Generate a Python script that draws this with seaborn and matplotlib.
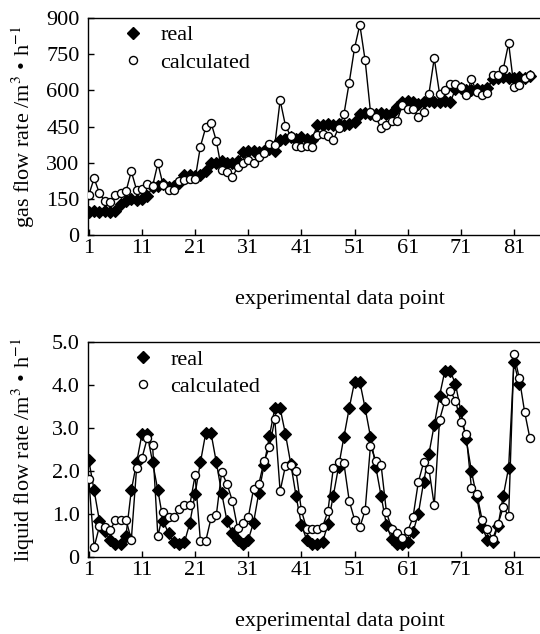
import matplotlib
matplotlib.use("Agg")
import numpy as np
import pandas as pd
import seaborn as sns
import matplotlib.pyplot as plt
from matplotlib.lines import Line2D

# ---------------- data ----------------
gas_real = [95, 100, 95, 100, 95, 100,
            130, 140, 150, 145, 150, 160,
            200, 205, 210, 200, 205, 215,
            250, 250, 245, 250, 265, 300,
            300, 305, 300, 300, 305,
            345, 350, 350, 345, 350, 355, 350,
            395, 400, 405, 400, 405, 400, 395,
            455, 455, 460, 455, 460, 455, 460,
            470, 500,
            505, 500, 500, 505, 500, 505,
            530,
            550, 555, 550, 545, 550, 555, 550, 550, 555, 550,
            605, 610, 600, 600, 605, 600, 610,
            645, 650, 655, 650, 650, 655, 650, 660]

gas_calc = [166, 235, 173, 140, 136, 165, 173, 181, 264, 186,
            189, 210, 203, 297, 206, 185, 185, 223, 228, 232,
            232, 367, 446, 466, 390, 270, 260, 240, 280, 300,
            311, 297, 325, 342, 377, 373, 559, 454, 409, 369,
            365, 369, 367, 414, 418, 409, 394, 445, 500, 632,
            775, 872, 724, 511, 490, 442, 455, 472, 472, 541,
            524, 524, 490, 511, 586, 733, 586, 600, 627, 627,
            614, 579, 645, 594, 579, 590, 662, 662, 690, 795,
            614, 623, 652, 662]

liq_real = [2.25, 1.55, 0.84, 0.6, 0.4, 0.3, 0.3, 0.5, 1.55, 2.2,
            2.86, 2.86, 2.2, 1.55, 0.84, 0.55, 0.35, 0.3, 0.35, 0.78,
            1.47, 2.2, 2.88, 2.88, 2.2, 1.49, 0.84, 0.56, 0.4, 0.3,
            0.4, 0.8, 1.5, 2.15, 2.82, 3.46, 3.46, 2.86, 2.17, 1.42,
            0.75, 0.4, 0.3, 0.3, 0.35, 0.77, 1.42, 2.1, 2.79, 3.46,
            4.07, 4.07, 3.46, 2.8, 2.1, 1.42, 0.75, 0.42, 0.3, 0.3,
            0.35, 0.58, 1.0, 1.74, 2.4, 3.07, 3.75, 4.33, 4.33, 4.02,
            3.4, 2.74, 2.0, 1.39, 0.7, 0.4, 0.35, 0.73, 1.43, 2.08,
            4.53, 4.02]

liq_calc = [1.81, 0.23, 0.71, 0.7, 0.62, 0.85, 0.85, 0.87, 0.4, 2.08,
            2.3, 2.76, 2.6, 0.48, 1.05, 0.92, 0.92, 1.12, 1.2, 1.2,
            1.9, 0.37, 0.37, 0.9, 0.98, 1.98, 1.7, 1.31, 0.67, 0.78,
            0.92, 1.58, 1.7, 2.24, 2.55, 3.21, 1.53, 2.12, 2.14, 1.99,
            1.09, 0.65, 0.65, 0.65, 0.7, 1.07, 2.06, 2.2, 2.18, 1.31,
            0.87, 0.69, 1.09, 2.59, 2.24, 2.14, 1.05, 0.65, 0.55, 0.45,
            0.6, 0.92, 1.74, 2.2, 2.05, 1.2, 3.19, 3.63, 3.87, 3.63,
            3.15, 2.86, 1.6, 1.47, 0.87, 0.64, 0.42, 0.77, 1.16, 0.95,
            4.72, 4.16, 3.38, 2.76]

x_ticks = [1, 11, 21, 31, 41, 51, 61, 71, 81]
gas_ticks = [0, 150, 300, 450, 600, 750, 900]
liq_ticks = [0, 1, 2, 3, 4, 5]
liq_tick_labels = ["0", "1.0", "2.0", "3.0", "4.0", "5.0"]
series_names = ["real", "calculated"]
x_label = "experimental data point"
gas_ylabel = "gas flow rate /m$^{3}$ \u2022 h$^{-1}$"
liq_ylabel = "liquid flow rate /m$^{3}$ \u2022 h$^{-1}$"

# ---------------- style ----------------
sns.set_theme(style="ticks")
plt.rcParams.update({
    "font.family": ["Liberation Serif", "DejaVu Serif"],
    "mathtext.fontset": "stix",
    "axes.edgecolor": "black",
    "axes.linewidth": 1.0,
    "xtick.color": "black",
    "ytick.color": "black",
    "text.color": "black",
    "axes.labelcolor": "black",
})

FS = 16
W, H = 540, 634
fig = plt.figure(figsize=(W / 100, H / 100), dpi=100)
ax1 = fig.add_axes([88 / W, 1 - 235 / H, (W - 88) / W, (235 - 18) / H])
ax2 = fig.add_axes([88 / W, 1 - 557 / H, (W - 88) / W, (557 - 342) / H])

D_MS = 5.8
O_MS = 5.8


def draw(ax, real, calc, yticks, ylabels, ylim, ylabel, legend_x):
    dr = pd.DataFrame({"point": np.arange(1, len(real) + 1), "value": real})
    dc = pd.DataFrame({"point": np.arange(1, len(calc) + 1), "value": calc})
    sns.lineplot(data=dr, x="point", y="value", ax=ax, color="black",
                 linewidth=1.0, marker="D", markersize=D_MS,
                 markerfacecolor="black", markeredgecolor="black",
                 markeredgewidth=0.8, zorder=3)
    sns.lineplot(data=dc, x="point", y="value", ax=ax, color="black",
                 linewidth=1.0, marker="o", markersize=O_MS,
                 markerfacecolor="white", markeredgecolor="black",
                 markeredgewidth=1.0, zorder=4)
    ax.set_xlim(0.85, 85.9)
    ax.set_ylim(*ylim)
    ax.set_xticks(x_ticks)
    ax.set_xticklabels([str(t) for t in x_ticks])
    ax.set_yticks(yticks)
    ax.set_yticklabels(ylabels)
    ax.tick_params(axis="both", direction="in", length=4, width=1,
                   labelsize=FS, colors="black")
    ax.tick_params(axis="x", pad=3)
    ax.tick_params(axis="y", pad=6)
    ax.spines["right"].set_visible(False)
    for s in ["left", "bottom", "top"]:
        ax.spines[s].set_color("black")
        ax.spines[s].set_linewidth(1.0)
    ax.set_xlabel(x_label, fontsize=FS)
    ax.set_ylabel(ylabel, fontsize=FS)
    ax.xaxis.set_label_coords(0.557, -0.255)
    ax.yaxis.set_label_coords(-0.112, 0.5)
    handles = [
        Line2D([], [], linestyle="none", marker="D", markersize=D_MS,
               markerfacecolor="black", markeredgecolor="black"),
        Line2D([], [], linestyle="none", marker="o", markersize=O_MS,
               markerfacecolor="white", markeredgecolor="black"),
    ]
    ax.legend(handles, series_names, loc="upper left",
              bbox_to_anchor=(legend_x, 1.04), frameon=False, fontsize=FS,
              handlelength=1.0, handletextpad=0.75, labelspacing=0.32,
              borderaxespad=0.3)


draw(ax1, gas_real, gas_calc, gas_ticks, [str(t) for t in gas_ticks],
     (0, 900), gas_ylabel, 0.04)
draw(ax2, liq_real, liq_calc, liq_ticks, liq_tick_labels, (0, 5.0),
     liq_ylabel, 0.062)

fig.savefig("out.png", dpi=100)
